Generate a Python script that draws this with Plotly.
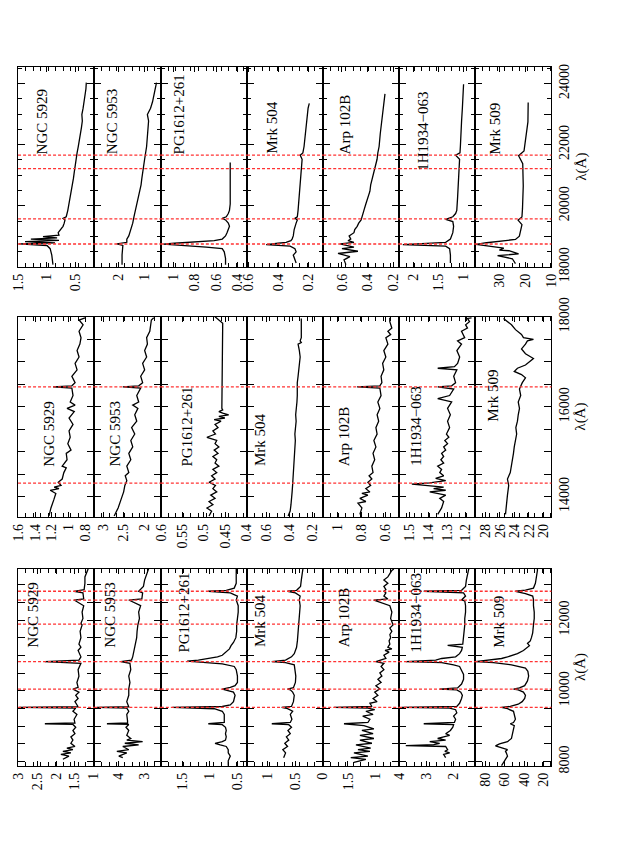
import plotly.graph_objects as go

W, H = 639, 854

OBJECTS = ["NGC 5929", "NGC 5953", "PG1612+261", "Mrk 504", "Arp 102B", "1H1934\u2212063", "Mrk 509"]

# ---------------- wavelength limits (Angstrom) per band ----------------
WL_LIMITS_K = [17997, 24543]
WL_LIMITS_H = [13540, 18003]
WL_LIMITS_J = [7873, 13451]

# flux-axis limits per object: [left value, right value]
FLUX_LIMITS_K = [[1.514, 0.157], [2.954, 0.369], [1.12, 0.31], [0.608, 0.099], [0.747, 0.153], [2.296, 0.776], [39.5, 9.95]]
FLUX_LIMITS_H = [[1.61, 0.687], [3.21, 1.61], [0.601, 0.399], [0.767, 0.103], [1.123, 0.49], [1.558, 1.151], [29.49, 18.9]]
FLUX_LIMITS_J = [[3.02, 0.98], [4.95, 2.37], [1.89, 0.326], [1.379, -0.005], [1.943, 0.586], [4.03, 1.215], [91.2, 11.7]]
FLUX_DTICK_K = [0.5, 1, 0.2, 0.2, 0.2, 0.5, 10]
FLUX_DTICK_H = [0.2, 0.5, 0.05, 0.2, 0.2, 0.1, 2]
FLUX_DTICK_J = [0.5, 1, 0.5, 0.5, 0.5, 1, 20]

# emission lines marked (Angstrom)
LINES_K = [18751, 19570, 21218, 21661]
LINES_H = [14301, 16440]
LINES_J = [9531, 10049, 10830, 11886, 12570, 12818]

# ---------------- K band spectra ----------------
K_NGC5929_WL = [18075, 18388, 18597, 18702, 18754, 18785, 18827, 18869, 18911, 18952, 18994, 19036, 19120, 19224, 19329, 19433, 19538, 19590, 19642, 19851, 20060, 20269, 20478, 20687, 20896, 21105, 21314, 21523, 21732, 21941, 22150, 22359, 22568, 22777, 22986, 23195, 23404, 23613, 23822, 24031]
K_NGC5929_FX = [0.893, 0.914, 0.943, 1.0, 1.5, 0.857, 1.39, 0.786, 1.286, 0.82, 1.07, 0.786, 0.80, 0.75, 0.714, 0.693, 0.679, 0.714, 0.657, 0.629, 0.607, 0.586, 0.564, 0.55, 0.529, 0.514, 0.5, 0.486, 0.464, 0.443, 0.421, 0.407, 0.386, 0.371, 0.379, 0.357, 0.336, 0.321, 0.307, 0.3]
K_NGC5953_WL = [18075, 18388, 18702, 18754, 18806, 18911, 19015, 19224, 19433, 19642, 19851, 20060, 20269, 20478, 20687, 20896, 21105, 21314, 21523, 21941, 22359, 22777, 22986, 23195, 23404, 23613, 23822, 24031]
K_NGC5953_FX = [1.877, 1.877, 1.846, 2.077, 1.692, 1.692, 1.615, 1.538, 1.462, 1.415, 1.354, 1.292, 1.231, 1.185, 1.138, 1.108, 1.077, 1.046, 1.0, 0.923, 0.877, 0.846, 0.892, 0.769, 0.692, 0.646, 0.585, 0.538]
K_PG1612_WL = [18075, 18284, 18493, 18597, 18649, 18702, 18743, 18775, 18806, 18858, 18911, 19015, 19120, 19224, 19329, 19433, 19538, 19590, 19642, 19747, 19851, 20060, 20269, 20478, 20687, 20896, 21105, 21314, 21418]
K_PG1612_FX = [0.512, 0.512, 0.524, 0.543, 0.693, 0.955, 1.097, 0.993, 0.805, 0.618, 0.543, 0.512, 0.498, 0.486, 0.475, 0.486, 0.512, 0.543, 0.505, 0.486, 0.475, 0.468, 0.468, 0.468, 0.468, 0.468, 0.468, 0.475, 0.468]
K_MRK504_WL = [18127, 18284, 18388, 18493, 18597, 18681, 18733, 18775, 18806, 18858, 18911, 19015, 19224, 19433, 19538, 19590, 19642, 19851, 20269, 20687, 21105, 21523, 21659, 21732, 21941, 22359, 22777, 22986, 23195, 23352]
K_MRK504_FX = [0.28, 0.293, 0.299, 0.28, 0.288, 0.32, 0.48, 0.4, 0.347, 0.315, 0.307, 0.299, 0.293, 0.28, 0.272, 0.288, 0.272, 0.267, 0.259, 0.251, 0.245, 0.24, 0.253, 0.235, 0.227, 0.219, 0.213, 0.208, 0.2, 0.192]
K_ARP102B_WL = [18075, 18231, 18336, 18440, 18513, 18597, 18649, 18702, 18754, 18806, 18858, 18911, 19015, 19120, 19224, 19329, 19433, 19538, 19642, 19851, 20060, 20269, 20478, 20687, 20896, 21105, 21314, 21523, 21732, 21941, 22359, 22777, 23195, 23509, 23665]
K_ARP102B_FX = [0.569, 0.584, 0.538, 0.631, 0.475, 0.6, 0.506, 0.553, 0.616, 0.506, 0.553, 0.531, 0.544, 0.506, 0.5, 0.481, 0.469, 0.45, 0.444, 0.428, 0.413, 0.397, 0.381, 0.375, 0.363, 0.35, 0.334, 0.325, 0.319, 0.309, 0.3, 0.288, 0.281, 0.272, 0.263]
K_1H1934_WL = [18127, 18388, 18597, 18681, 18733, 18775, 18806, 18911, 19120, 19329, 19485, 19558, 19642, 19747, 19851, 20269, 20687, 21105, 21523, 21659, 21732, 21941, 22359, 22777, 23195, 23613, 23979]
K_1H1934_FX = [1.264, 1.264, 1.28, 1.36, 2.22, 1.68, 1.36, 1.264, 1.216, 1.2, 1.216, 1.36, 1.216, 1.16, 1.136, 1.12, 1.104, 1.088, 1.08, 1.16, 1.072, 1.064, 1.056, 1.04, 1.024, 1.016, 1.0]
K_MRK509_WL = [18109, 18267, 18372, 18425, 18530, 18552, 18615, 18688, 18741, 18792, 18846, 18900, 19004, 19162, 19384, 19532, 19637, 19899, 20649, 21376, 21639, 21797, 22230, 22746, 23378]
K_MRK509_FX = [23.8, 25.0, 30.7, 22.6, 26.3, 30.0, 28.3, 35.0, 39.0, 35.0, 28.9, 23.8, 22.3, 21.9, 21.3, 22.8, 21.3, 21.1, 20.8, 21.0, 22.6, 20.5, 19.8, 19.0, 18.9]

# ---------------- H band spectra ----------------
H_NGC5929_WL = [13571, 13749, 13928, 14071, 14142, 14178, 14214, 14249, 14321, 14392, 14535, 14642, 14678, 14821, 14963, 15035, 15178, 15321, 15464, 15606, 15749, 15892, 15963, 16035, 16106, 16249, 16415, 16440, 16465, 16535, 16678, 16821, 16964, 17106, 17249, 17392, 17535, 17678, 17821, 17928, 17978]
H_NGC5929_FX = [1.236, 1.212, 1.178, 1.153, 1.221, 1.115, 1.173, 1.09, 1.124, 1.076, 1.056, 1.027, 1.076, 1.017, 1.027, 0.969, 1.008, 0.979, 0.993, 0.945, 0.993, 0.93, 1.017, 0.92, 0.979, 0.945, 0.959, 1.187, 0.959, 0.92, 0.959, 0.896, 0.92, 0.872, 0.896, 0.862, 0.848, 0.872, 0.823, 0.872, 0.799]
H_NGC5953_WL = [13571, 13749, 13928, 14107, 14249, 14356, 14464, 14535, 14678, 14821, 14963, 15106, 15249, 15392, 15535, 15678, 15821, 15963, 16035, 16106, 16249, 16415, 16440, 16465, 16535, 16678, 16821, 16964, 17106, 17249, 17392, 17535, 17678, 17821, 17928, 17978]
H_NGC5953_FX = [2.733, 2.638, 2.571, 2.505, 2.476, 2.429, 2.467, 2.381, 2.429, 2.333, 2.381, 2.286, 2.333, 2.238, 2.314, 2.19, 2.238, 2.162, 2.286, 2.143, 2.19, 2.095, 2.524, 2.143, 2.048, 2.095, 2.0, 2.048, 1.952, 2.0, 1.933, 1.952, 1.876, 1.857, 1.838, 1.781]
H_PG1612_WL = [13571, 13678, 13749, 13821, 13892, 13963, 14035, 14106, 14178, 14249, 14321, 14392, 14464, 14535, 14606, 14678, 14749, 14821, 14892, 14963, 15035, 15106, 15178, 15249, 15321, 15392, 15464, 15535, 15606, 15678, 15714, 15749, 15785, 15821, 15856, 15892, 15928, 15963, 17856, 17892, 17964, 17999]
H_PG1612_FX = [0.488, 0.482, 0.493, 0.479, 0.488, 0.474, 0.484, 0.470, 0.479, 0.473, 0.488, 0.474, 0.482, 0.470, 0.479, 0.465, 0.474, 0.470, 0.479, 0.467, 0.476, 0.465, 0.474, 0.470, 0.493, 0.473, 0.479, 0.467, 0.474, 0.460, 0.476, 0.451, 0.465, 0.442, 0.456, 0.465, 0.456, 0.458, 0.456, 0.46, 0.469, 0.474]
H_MRK504_WL = [13571, 13678, 13821, 13963, 14106, 14249, 14392, 14535, 14678, 14821, 14963, 15106, 15249, 15392, 15535, 15678, 15821, 15963, 16106, 16249, 16392, 16535, 16678, 16821, 16964, 17106, 17249, 17392, 17428, 17464, 17535, 17678, 17821, 17964]
H_MRK504_FX = [0.409, 0.391, 0.384, 0.377, 0.374, 0.370, 0.367, 0.363, 0.36, 0.357, 0.353, 0.35, 0.346, 0.35, 0.343, 0.339, 0.343, 0.336, 0.332, 0.329, 0.332, 0.329, 0.322, 0.318, 0.311, 0.304, 0.311, 0.322, 0.294, 0.304, 0.294, 0.294, 0.294, 0.294]
H_ARP102B_WL = [13606, 13749, 13856, 13892, 13963, 14035, 14071, 14106, 14178, 14249, 14321, 14392, 14464, 14535, 14678, 14821, 14963, 15106, 15249, 15392, 15535, 15678, 15821, 15963, 16106, 16249, 16415, 16440, 16465, 16535, 16678, 16821, 16964, 17106, 17249, 17392, 17535, 17606, 17678, 17749, 17892, 17978]
H_ARP102B_FX = [0.817, 0.8, 0.833, 0.767, 0.817, 0.75, 0.8, 0.733, 0.767, 0.727, 0.75, 0.717, 0.74, 0.707, 0.717, 0.693, 0.707, 0.683, 0.7, 0.673, 0.683, 0.66, 0.673, 0.65, 0.667, 0.64, 0.65, 0.84, 0.65, 0.633, 0.64, 0.617, 0.627, 0.6, 0.617, 0.583, 0.6, 0.56, 0.583, 0.55, 0.567, 0.567]
H_1H1934_WL = [13606, 13749, 13892, 13963, 14035, 14106, 14142, 14178, 14214, 14249, 14278, 14306, 14356, 14406, 14464, 14535, 14606, 14678, 14749, 14821, 14892, 14963, 15035, 15106, 15178, 15249, 15321, 15392, 15535, 15678, 15821, 15963, 16106, 16178, 16249, 16392, 16440, 16464, 16535, 16678, 16821, 16856, 16892, 16964, 17106, 17249, 17392, 17464, 17535, 17678, 17749, 17821, 17892, 17964, 17978]
H_1H1934_FX = [1.35, 1.329, 1.318, 1.339, 1.307, 1.393, 1.307, 1.372, 1.318, 1.393, 1.489, 1.393, 1.307, 1.361, 1.318, 1.339, 1.329, 1.35, 1.318, 1.333, 1.318, 1.329, 1.307, 1.318, 1.297, 1.312, 1.29, 1.303, 1.286, 1.297, 1.282, 1.297, 1.275, 1.35, 1.286, 1.264, 1.35, 1.275, 1.254, 1.264, 1.247, 1.35, 1.26, 1.243, 1.232, 1.247, 1.222, 1.243, 1.205, 1.222, 1.19, 1.2, 1.179, 1.19, 1.168]
H_MRK509_WL = [13606, 13821, 14035, 14249, 14392, 14535, 14678, 14821, 14963, 15106, 15249, 15392, 15535, 15678, 15821, 15963, 16106, 16249, 16392, 16535, 16642, 16714, 16785, 16856, 16928, 16999, 17071, 17178, 17285, 17392, 17464, 17499, 17535, 17606, 17714, 17821, 17892, 17964]
H_MRK509_FX = [25.24, 25.13, 24.97, 24.8, 24.97, 24.58, 24.41, 24.25, 24.14, 24.03, 23.86, 23.7, 23.81, 23.59, 23.48, 23.31, 23.48, 23.14, 23.31, 22.92, 22.48, 23.03, 24.03, 23.59, 22.48, 21.93, 21.38, 22.48, 23.03, 22.48, 22.21, 21.38, 22.76, 23.03, 23.86, 24.41, 24.97, 25.52]

# ---------------- z+J band spectra ----------------
J_NGC5929_WL = [8064, 8154, 8200, 8245, 8290, 8335, 8381, 8426, 8517, 8607, 8698, 8788, 8879, 8970, 9050, 9069, 9090, 9196, 9332, 9422, 9513, 9531, 9550, 9694, 9784, 9875, 9965, 10049, 10101, 10237, 10418, 10599, 10780, 10830, 10871, 10962, 11143, 11233, 11324, 11505, 11686, 11867, 11912, 12048, 12229, 12410, 12570, 12600, 12773, 12818, 12863, 13044, 13225, 13406, 13451]
J_NGC5929_FX = [1.821, 1.66, 1.875, 1.607, 1.821, 1.553, 1.714, 1.499, 1.607, 1.553, 1.607, 1.499, 1.553, 1.478, 1.553, 2.303, 1.499, 1.521, 1.446, 1.553, 1.478, 2.99, 1.414, 1.499, 1.414, 1.478, 1.392, 1.553, 1.414, 1.446, 1.392, 1.414, 1.339, 2.303, 1.392, 1.339, 1.414, 1.339, 1.392, 1.339, 1.36, 1.307, 1.339, 1.285, 1.307, 1.264, 1.521, 1.264, 1.285, 1.521, 1.253, 1.232, 1.232, 1.178, 1.146]
J_NGC5953_WL = [8109, 8154, 8245, 8290, 8335, 8426, 8471, 8517, 8562, 8607, 8652, 8743, 8879, 8970, 9050, 9069, 9090, 9151, 9332, 9422, 9513, 9531, 9550, 9694, 9875, 10056, 10237, 10418, 10599, 10780, 10830, 10871, 10962, 11143, 11324, 11505, 11686, 11867, 12048, 12229, 12410, 12570, 12600, 12773, 12818, 12954, 13135, 13316, 13451]
J_NGC5953_FX = [3.846, 4.0, 3.692, 4.077, 3.615, 3.846, 3.231, 3.769, 3.077, 3.692, 3.538, 3.692, 3.615, 3.723, 3.615, 4.462, 3.662, 3.662, 3.692, 3.615, 3.692, 4.846, 3.615, 3.692, 3.615, 3.615, 3.569, 3.615, 3.538, 3.569, 3.923, 3.508, 3.462, 3.415, 3.354, 3.308, 3.292, 3.262, 3.2, 3.231, 3.154, 3.615, 3.108, 3.077, 3.231, 3.046, 3.0, 2.923, 2.846]
J_PG1612_WL = [7883, 8019, 8154, 8245, 8335, 8426, 8471, 8517, 8562, 8607, 8698, 8788, 8879, 8970, 9042, 9069, 9105, 9196, 9332, 9422, 9494, 9531, 9558, 9603, 9694, 9784, 9875, 9965, 10011, 10049, 10101, 10146, 10237, 10418, 10599, 10690, 10762, 10799, 10820, 10840, 10871, 10916, 10962, 11007, 11097, 11188, 11278, 11369, 11505, 11686, 11867, 12048, 12229, 12410, 12501, 12573, 12682, 12773, 12818, 12845, 12908, 13044, 13225, 13406, 13451]
J_PG1612_FX = [0.667, 0.667, 0.63, 0.667, 0.667, 0.703, 0.812, 0.906, 0.775, 0.717, 0.703, 0.717, 0.703, 0.717, 0.775, 1.029, 0.739, 0.739, 0.739, 0.775, 0.92, 1.681, 0.775, 0.63, 0.572, 0.558, 0.543, 0.572, 0.667, 0.775, 0.63, 0.543, 0.5, 0.5, 0.522, 0.558, 0.775, 1.065, 1.355, 1.413, 1.21, 0.993, 0.862, 0.775, 0.717, 0.645, 0.616, 0.572, 0.529, 0.514, 0.514, 0.5, 0.486, 0.486, 0.5, 0.522, 0.5, 0.63, 1.029, 0.703, 0.558, 0.522, 0.522, 0.522, 0.522]
J_MRK504_WL = [8109, 8245, 8335, 8426, 8517, 8607, 8698, 8788, 8879, 8970, 9042, 9069, 9105, 9196, 9332, 9422, 9494, 9531, 9558, 9694, 9875, 9965, 10030, 10049, 10092, 10237, 10418, 10599, 10735, 10799, 10830, 10871, 10962, 11052, 11233, 11414, 11686, 11867, 12048, 12229, 12410, 12573, 12682, 12773, 12818, 12845, 12954, 13135, 13316, 13451]
J_MRK504_FX = [0.714, 0.679, 0.729, 0.643, 0.693, 0.621, 0.664, 0.593, 0.636, 0.571, 0.621, 0.929, 0.593, 0.564, 0.593, 0.55, 0.643, 0.75, 0.571, 0.536, 0.521, 0.55, 0.593, 0.643, 0.536, 0.5, 0.493, 0.514, 0.521, 0.679, 0.929, 0.679, 0.571, 0.521, 0.479, 0.464, 0.45, 0.436, 0.429, 0.421, 0.414, 0.429, 0.414, 0.5, 0.643, 0.479, 0.407, 0.393, 0.379, 0.364]
J_ARP102B_WL = [7973, 8064, 8109, 8154, 8245, 8290, 8335, 8381, 8471, 8517, 8607, 8652, 8743, 8788, 8879, 8924, 9015, 9069, 9105, 9196, 9286, 9332, 9422, 9467, 9513, 9531, 9558, 9648, 9694, 9784, 9875, 9965, 10056, 10146, 10237, 10328, 10418, 10509, 10599, 10690, 10780, 10830, 10916, 11007, 11097, 11143, 11188, 11233, 11324, 11414, 11505, 11595, 11686, 11776, 11867, 12048, 12229, 12410, 12570, 12600, 12682, 12773, 12818, 12863, 12954, 13044, 13135, 13225, 13316, 13406, 13451]
J_ARP102B_FX = [1.393, 1.179, 1.45, 1.143, 1.393, 1.107, 1.321, 1.093, 1.357, 1.071, 1.286, 1.036, 1.286, 1.05, 1.25, 1.036, 1.214, 1.571, 1.143, 1.107, 1.236, 1.05, 1.179, 1.021, 1.143, 1.75, 1.071, 1.107, 0.979, 1.05, 0.964, 1.021, 0.929, 1.0, 0.907, 0.964, 0.893, 0.929, 0.857, 0.907, 0.857, 1.0, 0.821, 0.857, 0.764, 0.836, 0.714, 0.786, 0.75, 0.764, 0.736, 0.75, 0.714, 0.75, 0.693, 0.736, 0.714, 0.75, 1.036, 0.786, 0.857, 0.821, 0.857, 0.821, 0.857, 0.786, 0.857, 0.786, 0.75, 0.714, 0.679]
J_1H1934_WL = [8109, 8200, 8245, 8290, 8335, 8426, 8453, 8480, 8517, 8562, 8607, 8652, 8698, 8743, 8788, 8879, 8970, 9042, 9069, 9105, 9196, 9286, 9377, 9467, 9513, 9531, 9558, 9648, 9784, 9875, 9965, 10029, 10049, 10084, 10192, 10328, 10463, 10599, 10690, 10735, 10799, 10830, 10871, 10916, 10962, 11052, 11143, 11233, 11287, 11324, 11505, 11686, 11867, 12048, 12229, 12410, 12546, 12573, 12682, 12773, 12818, 12845, 12954, 13135, 13316, 13451]
J_1H1934_FX = [2.296, 2.37, 2.148, 2.326, 2.222, 2.296, 3.778, 2.741, 2.519, 2.889, 2.296, 2.593, 2.37, 2.148, 2.296, 2.119, 2.03, 2.0, 3.111, 1.97, 1.926, 2.0, 1.881, 1.926, 2.148, 3.926, 1.881, 1.778, 1.704, 1.674, 1.733, 1.881, 2.519, 1.852, 1.704, 1.63, 1.63, 1.704, 1.778, 2.0, 2.444, 3.778, 2.667, 2.444, 1.926, 1.778, 1.704, 1.674, 2.222, 1.659, 1.63, 1.615, 1.585, 1.585, 1.556, 1.556, 1.585, 1.704, 1.556, 1.63, 3.111, 1.704, 1.556, 1.526, 1.481, 1.437]
J_MRK509_WL = [7883, 7973, 8064, 8154, 8245, 8290, 8335, 8381, 8444, 8498, 8562, 8652, 8788, 8924, 9015, 9069, 9105, 9196, 9332, 9422, 9494, 9531, 9558, 9622, 9694, 9784, 9875, 9965, 10029, 10049, 10084, 10146, 10282, 10418, 10554, 10645, 10735, 10799, 10830, 10871, 10916, 10962, 11052, 11143, 11233, 11278, 11342, 11414, 11505, 11641, 11867, 12048, 12229, 12410, 12592, 12682, 12754, 12818, 12850, 12908, 13044, 13225, 13406, 13451]
J_MRK509_FX = [63.4, 61.4, 59.3, 57.2, 58.5, 59.3, 57.2, 63.4, 69.7, 65.5, 57.2, 53.1, 51.8, 51.0, 50.2, 54.3, 51.0, 49.0, 50.2, 51.0, 57.2, 63.4, 54.3, 46.1, 42.0, 39.4, 38.6, 40.7, 46.1, 51.0, 44.8, 39.4, 36.5, 35.3, 36.1, 38.6, 53.1, 71.7, 90.4, 80.0, 63.4, 57.2, 46.9, 40.7, 36.5, 34.5, 36.5, 33.6, 32.4, 31.1, 30.3, 29.5, 29.5, 30.3, 30.3, 31.1, 38.6, 49.0, 38.6, 30.3, 28.3, 27.0, 26.2, 26.2]

SPECTRA_K = [(K_NGC5929_WL, K_NGC5929_FX), (K_NGC5953_WL, K_NGC5953_FX), (K_PG1612_WL, K_PG1612_FX), (K_MRK504_WL, K_MRK504_FX), (K_ARP102B_WL, K_ARP102B_FX), (K_1H1934_WL, K_1H1934_FX), (K_MRK509_WL, K_MRK509_FX)]
SPECTRA_H = [(H_NGC5929_WL, H_NGC5929_FX), (H_NGC5953_WL, H_NGC5953_FX), (H_PG1612_WL, H_PG1612_FX), (H_MRK504_WL, H_MRK504_FX), (H_ARP102B_WL, H_ARP102B_FX), (H_1H1934_WL, H_1H1934_FX), (H_MRK509_WL, H_MRK509_FX)]
SPECTRA_J = [(J_NGC5929_WL, J_NGC5929_FX), (J_NGC5953_WL, J_NGC5953_FX), (J_PG1612_WL, J_PG1612_FX), (J_MRK504_WL, J_MRK504_FX), (J_ARP102B_WL, J_ARP102B_FX), (J_1H1934_WL, J_1H1934_FX), (J_MRK509_WL, J_MRK509_FX)]

# ---------------- layout (pixels) ----------------
XB = [11.3, 89.3, 157.3, 245.4, 323.3, 400.8, 478.2, 556.6]
GROUPS = [
    dict(spec=SPECTRA_K, wl=WL_LIMITS_K, flux=FLUX_LIMITS_K, dt=FLUX_DTICK_K, lines=LINES_K,
         top=50, bot=258.3, wstep=1000, wminor=500,
         lab_x=[35.4, 106.7, 176.0, 271.0, 345.7, 425.2, 499.4],
         lab_y=[143, 143, 143, 143, 143, 159.8, 143]),
    dict(spec=SPECTRA_H, wl=WL_LIMITS_H, flux=FLUX_LIMITS_H, dt=FLUX_DTICK_H, lines=LINES_H,
         top=310, bot=519, wstep=500, wminor=None,
         lab_x=[42.7, 110.0, 184.2, 258.8, 344.5, 417.9, 497.4],
         lab_y=[468, 468, 468, 468, 468, 467, 422]),
    dict(spec=SPECTRA_J, wl=WL_LIMITS_J, flux=FLUX_LIMITS_J, dt=FLUX_DTICK_J, lines=LINES_J,
         top=572.7, bot=778, wstep=500, wminor=None,
         lab_x=[26.4, 105.1, 181.4, 258.8, 344.5, 417.9, 503.5],
         lab_y=[656.5, 656.5, 661.5, 656.5, 656.5, 661.5, 656.5]),
]

SERIF = "Liberation Serif, Times New Roman, serif"
RED = "rgb(255,50,50)"
FRAME_TICK_PX = 7.7   # spacing of the small ticks along the flux frames

fig = go.Figure()
layout = dict(width=W, height=H, margin=dict(l=0, r=0, t=0, b=0),
              paper_bgcolor="white", plot_bgcolor="rgba(0,0,0,0)", showlegend=False)
shapes, annotations = [], []

for g, grp in enumerate(GROUPS):
    ydom = [(H - grp["bot"]) / H, (H - grp["top"]) / H]
    lo, hi = grp["wl"]
    start = int((lo + grp["wstep"] - 1) // grp["wstep"] * grp["wstep"])
    tv = list(range(start, int(hi) + 1, grp["wstep"]))
    tt = [str(v) if v % 2000 == 0 else "" for v in tv]
    for j in range(7):
        k = g * 7 + j + 1
        xa = "xaxis" if k == 1 else f"xaxis{k}"
        ya = "yaxis" if k == 1 else f"yaxis{k}"
        xr = "x" if k == 1 else f"x{k}"
        yr = "y" if k == 1 else f"y{k}"
        wl, fx = grp["spec"][j]
        fig.add_trace(go.Scatter(x=fx, y=wl, mode="lines", xaxis=xr, yaxis=yr,
                                 line=dict(color="black", width=1.3), hoverinfo="skip"))
        fl = grp["flux"][j]
        dt = grp["dt"][j]
        span = abs(fl[0] - fl[1])
        mdt = span / (XB[j + 1] - XB[j]) * FRAME_TICK_PX
        layout[xa] = dict(domain=[XB[j] / W, XB[j + 1] / W], range=fl, anchor=yr,
                          showgrid=False, zeroline=False, showline=True, linecolor="black",
                          linewidth=1.2, mirror="allticks", ticks="inside", ticklen=5,
                          tickcolor="black", tick0=0, dtick=dt, tickangle=-90,
                          tickfont=dict(family=SERIF, size=14, color="black"),
                          minor=dict(ticks="inside", ticklen=4, tick0=fl[0], dtick=mdt, tickcolor="black"))
        yax = dict(domain=ydom, range=[lo, hi], anchor=xr, showgrid=False, zeroline=False,
                   showline=True, linecolor="black", linewidth=1.2, mirror="allticks",
                   ticks="inside", ticklen=7, tickcolor="black", tickmode="array",
                   tickvals=tv, ticktext=tt, showticklabels=(j == 6), side="right",
                   tickangle=-90, tickfont=dict(family=SERIF, size=14, color="black"))
        if grp["wminor"]:
            yax["minor"] = dict(ticks="inside", ticklen=4, dtick=grp["wminor"], tick0=0, tickcolor="black")
        layout[ya] = yax
        for lam in grp["lines"]:
            shapes.append(dict(type="line", xref=f"{xr} domain", yref=yr, x0=0, x1=1, y0=lam, y1=lam,
                               line=dict(color=RED, width=1.3, dash="3px,2px"), layer="above"))
        annotations.append(dict(text=OBJECTS[j], x=grp["lab_x"][j] / W, y=(H - grp["lab_y"][j]) / H,
                                xref="paper", yref="paper", xanchor="center", yanchor="bottom",
                                textangle=-90, showarrow=False,
                                font=dict(family=SERIF, size=15, color="black")))
    annotations.append(dict(text="\u03bb(\u00c5)", x=586.5 / W, y=(H - (grp["top"] + grp["bot"]) / 2) / H,
                            xref="paper", yref="paper", xanchor="center", yanchor="middle",
                            textangle=-90, showarrow=False,
                            font=dict(family=SERIF, size=15, color="black")))

layout["shapes"] = shapes
layout["annotations"] = annotations
fig.update_layout(**layout)
fig.write_html("out.html", config={"displayModeBar": False},
               post_script="document.body.style.margin='0';document.body.style.overflow='hidden';")
